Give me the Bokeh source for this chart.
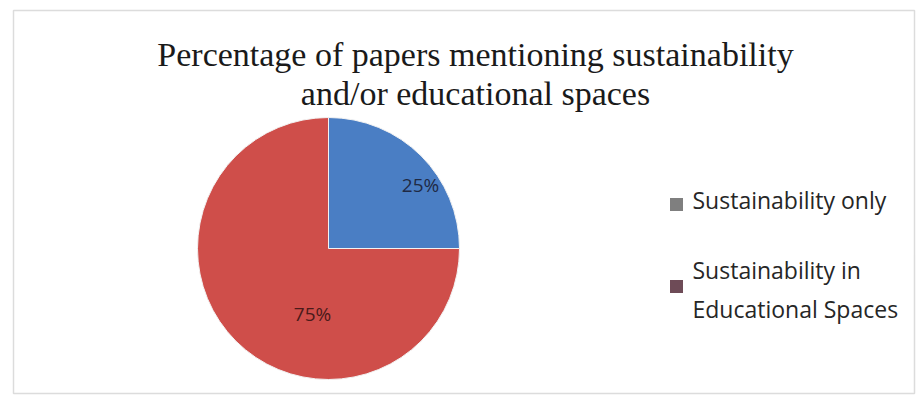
import math
from bokeh.plotting import figure
from bokeh.models import Range1d
from bokeh.core.properties import value
from bokeh.embed import file_html
from bokeh.resources import INLINE

# ---- data ----
title_lines = ["Percentage of papers mentioning sustainability", "and/or educational spaces"]
categories = ["Sustainability only", "Sustainability in\nEducational Spaces"]
shares = [25, 75]
slice_colors = ["#4A7EC4", "#CF4E4A"]
legend_colors = ["#7F7F7F", "#6E4B57"]

W, H = 916, 395

def px(x):  # screen x -> data x
    return x

def py(y):  # screen y -> data y
    return H - y

p = figure(width=W, height=H, output_backend="svg", toolbar_location=None,
           x_range=Range1d(0, W), y_range=Range1d(0, H), min_border=0)
p.axis.visible = False
p.grid.visible = False
p.outline_line_color = None
p.background_fill_color = "white"

# frame
p.quad(left=[px(13)], right=[px(914)], bottom=[py(393)], top=[py(10)],
       fill_color=None, line_color="#DCDCDC", line_width=1.5)

# pie
cx, cy, r = px(328), py(248), 131
total = sum(shares)
cum = 0
starts, ends = [], []
for v in shares:
    starts.append(math.pi / 2 - 2 * math.pi * cum / total)
    cum += v
    ends.append(math.pi / 2 - 2 * math.pi * cum / total)
p.wedge(x=[cx] * len(shares), y=[cy] * len(shares), radius=r,
        start_angle=starts, end_angle=ends, direction="clock",
        fill_color=slice_colors, line_color="#F2F2F2", line_width=1)

# data labels
label_pos = [(420, 184), (312, 313)]
p.text(x=[px(a) for a, b in label_pos], y=[py(b) for a, b in label_pos],
       text=[f"{v}%" for v in shares], text_align="center", text_baseline="middle",
       text_font=value("Open Sans"), text_font_size="19px",
       text_color=["#1F2A44", "#4A1A1A"])

# title
p.text(x=[px(475), px(475)], y=[py(54), py(93)], text=title_lines,
       text_align="center", text_baseline="middle",
       text_font=value("Liberation Serif"), text_font_size="34px", text_color="#1A1A1A")

# legend
leg_y = [204, 286]
p.rect(x=[px(676)] * 2, y=[py(v) for v in leg_y], width=13, height=13,
       fill_color=legend_colors, line_color=None)
p.text(x=[px(692)] * 2, y=[py(199), py(289)], text=categories,
       text_align="left", text_baseline="middle", text_line_height=1.2,
       text_font=value("Open Sans"), text_font_size="23px", text_color="#262626")

open("out.html", "w").write(file_html(p, INLINE))
